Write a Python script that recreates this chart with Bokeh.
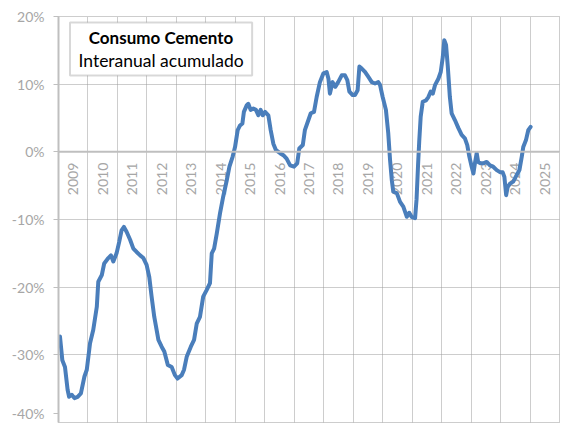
from bokeh.plotting import figure
from bokeh.models import (ColumnDataSource, FixedTicker, Span, Label, BoxAnnotation)
from bokeh.core.properties import value
from bokeh.embed import file_html
from bokeh.resources import INLINE
import math

# ---- data (decimal year, % interannual accumulated) ----
t = [2009.05, 2009.13, 2009.22, 2009.31, 2009.36, 2009.45, 2009.54, 2009.65, 2009.76, 2009.88,
     2009.96, 2010.07, 2010.18, 2010.30, 2010.35, 2010.47, 2010.55, 2010.69, 2010.78, 2010.86,
     2010.97, 2011.06, 2011.14, 2011.22, 2011.31, 2011.43, 2011.54, 2011.65, 2011.77, 2011.88,
     2011.99, 2012.08, 2012.16, 2012.25, 2012.39, 2012.50, 2012.59, 2012.71, 2012.84, 2012.95,
     2013.04, 2013.18, 2013.26, 2013.35, 2013.49, 2013.60, 2013.69, 2013.80, 2013.91, 2014.03,
     2014.14, 2014.20, 2014.28, 2014.37, 2014.48, 2014.59, 2014.71, 2014.80, 2014.91, 2014.99,
     2015.08, 2015.16, 2015.24, 2015.29, 2015.39, 2015.44, 2015.52, 2015.61, 2015.70, 2015.78,
     2015.86, 2015.93, 2016.01, 2016.12, 2016.20, 2016.29, 2016.38, 2016.52, 2016.63, 2016.74,
     2016.86, 2016.99, 2017.10, 2017.17, 2017.29, 2017.36, 2017.48, 2017.56, 2017.67, 2017.76,
     2017.87, 2017.99, 2018.10, 2018.16, 2018.21, 2018.30, 2018.39, 2018.49, 2018.61, 2018.72,
     2018.80, 2018.87, 2018.98, 2019.06, 2019.15, 2019.21, 2019.29, 2019.40, 2019.51, 2019.63,
     2019.74, 2019.85, 2019.91, 2020.00, 2020.11, 2020.19, 2020.25, 2020.31, 2020.36, 2020.48,
     2020.59, 2020.70, 2020.82, 2020.90, 2020.98, 2021.10, 2021.15, 2021.20, 2021.24, 2021.29,
     2021.36, 2021.47, 2021.55, 2021.63, 2021.70, 2021.78, 2021.89, 2021.97, 2022.04, 2022.09,
     2022.15, 2022.21, 2022.28, 2022.34, 2022.45, 2022.57, 2022.68, 2022.79, 2022.87, 2022.94,
     2023.02, 2023.08, 2023.13, 2023.19, 2023.24, 2023.32, 2023.41, 2023.53, 2023.64, 2023.75,
     2023.87, 2023.98, 2024.07, 2024.13, 2024.19, 2024.24, 2024.32, 2024.43, 2024.55, 2024.64,
     2024.72, 2024.77, 2024.86, 2024.94, 2025.02]

pct = [-27.3, -30.8, -31.8, -35.2, -36.2, -35.9, -36.4, -36.2, -35.7, -33.2,
       -32.2, -28.3, -26.3, -22.9, -19.2, -18.2, -16.5, -15.7, -15.3, -16.2,
       -15.0, -13.3, -11.6, -11.1, -11.8, -13.0, -14.3, -14.8, -15.3, -15.7,
       -16.7, -18.5, -21.4, -24.4, -27.8, -28.8, -29.5, -31.5, -31.8, -33.0,
       -33.5, -33.0, -32.2, -30.3, -28.8, -27.8, -25.4, -24.4, -21.4, -20.4,
       -19.4, -15.0, -14.3, -12.1, -9.1, -6.6, -4.2, -2.2, -0.7, 0.7,
       3.2, 3.9, 4.2, 5.9, 6.9, 7.1, 6.2, 6.4, 6.2, 5.4,
       6.2, 5.4, 5.9, 5.4, 3.2, 1.2, 0.25, -0.2, -0.5, -1.0,
       -2.0, -2.2, -1.7, 0.5, 1.0, 3.2, 4.7, 5.7, 5.9, 8.1,
       10.3, 11.6, 11.8, 10.8, 8.6, 10.3, 9.6, 10.3, 11.3, 11.3,
       10.6, 8.9, 8.4, 8.4, 9.1, 12.6, 12.3, 11.8, 11.1, 10.3,
       10.1, 10.3, 9.9, 8.1, 6.2, 2.7, -1.2, -4.2, -5.9, -6.1,
       -7.4, -8.1, -9.6, -9.0, -9.6, -9.8, -7.0, -2.0, 1.5, 5.2,
       7.4, 7.6, 8.1, 8.9, 8.6, 9.9, 10.8, 11.8, 14.0, 16.5,
       15.8, 12.6, 8.1, 5.7, 4.7, 3.5, 2.5, 2.0, 1.0, -0.7,
       -2.2, -3.2, -1.7, -0.2, -1.5, -1.7, -1.7, -1.5, -2.0, -2.2,
       -2.7, -3.0, -3.0, -3.7, -6.4, -5.2, -4.7, -4.4, -3.4, -2.7,
       -0.7, 0.7, 1.7, 3.2, 3.7]

years = list(range(2009, 2026))
year_labels = [str(y) for y in years]
y_ticks = [-40, -30, -20, -10, 0, 10, 20]
y_tick_labels = {v: f"{v}%" for v in y_ticks}

FONT = "Lato"
GREY_TXT = "#a6a6a6"
GRID = "#9a9a9a"

p = figure(width=561, height=423, x_range=(2009, 2026), y_range=(-40, 20),
           output_backend="svg", toolbar_location=None, x_axis_location=None,
           min_border_left=58, min_border_right=2, min_border_top=16, min_border_bottom=1)
p.background_fill_color = "white"
p.border_fill_color = "white"
p.outline_line_color = GRID
p.outline_line_dash = "1 1"
p.outline_line_width = 1

p.xgrid.ticker = FixedTicker(ticks=years + [2026])
p.xgrid.grid_line_color = GRID
p.xgrid.grid_line_dash = "1 1"
p.xgrid.grid_line_width = 1

# the lowest label sits at the page edge: place it a touch above its gridline so it stays visible
LOW_LABEL_POS = -38.7
axis_ticks = [LOW_LABEL_POS] + y_ticks[1:]
axis_labels = dict(y_tick_labels)
axis_labels[LOW_LABEL_POS] = axis_labels.pop(y_ticks[0])

yax = p.yaxis[0]
yax.ticker = FixedTicker(ticks=axis_ticks)
yax.major_label_overrides = axis_labels
yax.major_label_text_color = GREY_TXT
yax.major_label_text_font = FONT
yax.major_label_text_font_size = "14px"
yax.major_label_standoff = 9
yax.axis_line_color = "#bfbfbf"
yax.axis_line_width = 2
yax.major_tick_line_color = "#bfbfbf"
yax.major_tick_out = 5
yax.major_tick_in = 0
yax.minor_tick_line_color = None

p.ygrid.ticker = FixedTicker(ticks=y_ticks)
p.ygrid.grid_line_color = GRID
p.ygrid.grid_line_dash = "1 1"
p.ygrid.grid_line_width = 1

zero = Span(location=0, dimension="width", line_color="#bfbfbf", line_width=2)
p.add_layout(zero)

# year labels (rotated) centred in each year band
lab_src = ColumnDataSource(dict(x=[y + 0.5 for y in years], y=[-1.6] * len(years), txt=year_labels))
p.text(x="x", y="y", text="txt", source=lab_src, angle=math.pi / 2,
       text_align="right", text_baseline="middle", text_color=GREY_TXT,
       text_font=value(FONT), text_font_size="14px")

src = ColumnDataSource(dict(t=t, v=pct))
p.line("t", "v", source=src, line_color="#4a7ebb", line_width=4, line_join="round", line_cap="round")

# title box
box = BoxAnnotation(left=2009.39, right=2015.57, top=19.11, bottom=11.28,
                    fill_color="white", fill_alpha=1.0, line_color="#7f7f7f", line_width=2)
p.add_layout(box)
p.add_layout(Label(x=2012.48, y=16.9, text="Consumo Cemento", text_align="center",
                   text_baseline="middle", text_font=FONT, text_font_style="bold",
                   text_font_size="17px", text_color="black"))
p.add_layout(Label(x=2012.48, y=13.5, text="Interanual acumulado", text_align="center",
                   text_baseline="middle", text_font=FONT,
                   text_font_size="17.5px", text_color="black"))

open("out.html", "w").write(file_html(p, INLINE))
